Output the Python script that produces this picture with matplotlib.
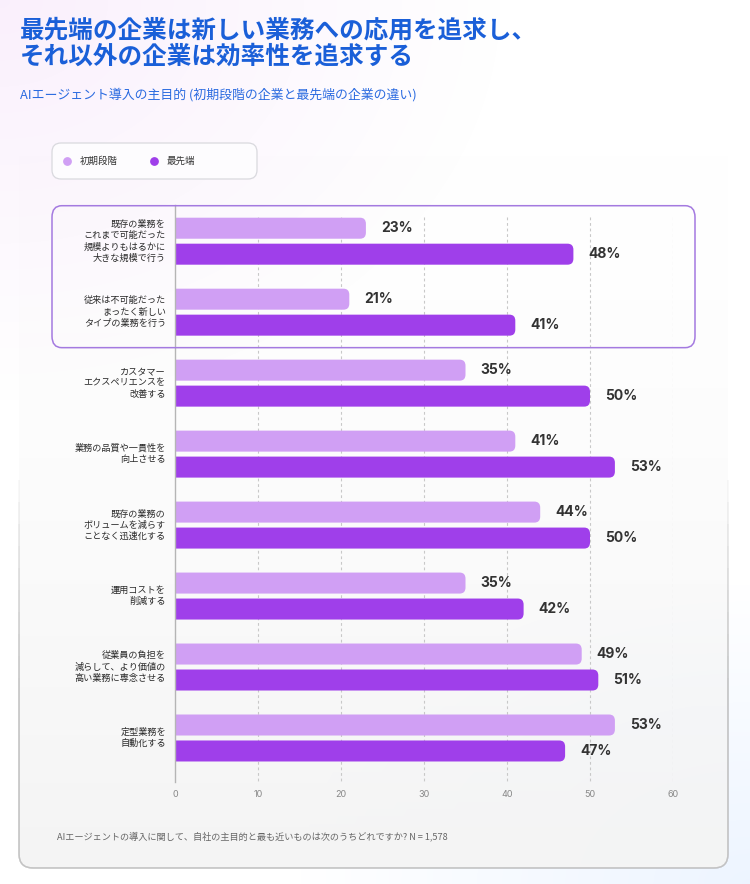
import numpy as np
import matplotlib
matplotlib.use("Agg")
import matplotlib.pyplot as plt
from matplotlib.patches import FancyBboxPatch, Rectangle
from matplotlib.transforms import blended_transform_factory

plt.rcParams["font.family"] = ["Noto Sans CJK JP", "DejaVu Sans"]

# data
categories = [
    "既存の業務を\nこれまで可能だった\n規模よりもはるかに\n大きな規模で行う",
    "従来は不可能だった\nまったく新しい\nタイプの業務を行う",
    "カスタマー\nエクスペリエンスを\n改善する",
    "業務の品質や一貫性を\n向上させる",
    "既存の業務の\nボリュームを減らす\nことなく迅速化する",
    "運用コストを\n削減する",
    "従業員の負担を\n減らして、より価値の\n高い業務に専念させる",
    "定型業務を\n自動化する",
]
early = [23, 21, 35, 41, 44, 35, 49, 53]
leading = [48, 41, 50, 53, 50, 42, 51, 47]
series_names = ["初期段階", "最先端"]
xticks = [0, 10, 20, 30, 40, 50, 60]

title = "最先端の企業は新しい業務への応用を追求し、\nそれ以外の企業は効率性を追求する"
subtitle = "AIエージェント導入の主目的 (初期段階の企業と最先端の企業の違い)"
footnote = "AIエージェントの導入に関して、自社の主目的と最も近いものは次のうちどれですか? N = 1,578"

c_early = "#d09ff4"
c_lead = "#9f3fea"
blue = "#1a5fd8"

W, H = 750, 884
fig = plt.figure(figsize=(W / 100, H / 100), dpi=100)

# background layer in pixel coords
bg = fig.add_axes([0, 0, 1, 1], zorder=-5)
bg.set_xlim(0, W)
bg.set_ylim(H, 0)
bg.axis("off")

yy, xx = np.mgrid[0:H, 0:W]
pink = np.clip(1 - np.hypot(xx / 500, yy / 400), 0, 1)
bluew = np.clip(1 - np.hypot((W - xx) / 450, (H - yy) / 300), 0, 1)
img = np.ones((H, W, 3))
img -= pink[..., None] * np.array([0.02, 0.06, 0.01])
img -= bluew[..., None] * np.array([0.07, 0.04, 0.0])
bg.imshow(img, extent=(0, W, H, 0), aspect="auto", zorder=0)

# card with vertical fade
card = FancyBboxPatch((19, 130), 709, 738, boxstyle="round,pad=0,rounding_size=14",
                      facecolor="none", edgecolor="none", zorder=1)
bg.add_patch(card)
fade = np.linspace(0, 1, 200) ** 1.6
grad = np.ones((200, 2, 4))
grad[..., :3] = 0.96
grad[..., 3] = fade[:, None]
gi = bg.imshow(grad, extent=(19, 728, 868, 130), aspect="auto", zorder=1)
gi.set_clip_path(card)
# faded border: stacked translucent copies clipped lower and lower
n_layers = 10
for k in range(n_layers):
    ce = FancyBboxPatch((19, 130), 709, 738, boxstyle="round,pad=0,rounding_size=14",
                        facecolor="none", edgecolor="#b8b8b8", lw=1.0,
                        alpha=1.0 / n_layers * 1.4, zorder=2)
    bg.add_patch(ce)
    ce.set_clip_path(Rectangle((0, 480 + k * 22), W, 500, transform=bg.transData))

# legend box
bg.add_patch(FancyBboxPatch((52, 143), 205, 36, boxstyle="round,pad=0,rounding_size=9",
                            facecolor="#fdfcfe", edgecolor="#d9d9de", lw=0.9, zorder=3))
for (px, name, col) in [(67, series_names[0], c_early), (154, series_names[1], c_lead)]:
    bg.scatter([px], [161], s=28, color=col, zorder=4)
    bg.text(px + 13, 161, name, fontsize=6.8, color="#333333", va="center", ha="left", zorder=4)

# titles
fig.text(20 / W, 1 - 44 / H, title, fontsize=17.7, fontweight="bold", color=blue,
         va="center", ha="left", linespacing=1.12)
fig.text(20 / W, 1 - 95 / H, subtitle, fontsize=9.3, color="#2b6be0", va="center", ha="left")
fig.text(57 / W, 1 - 836 / H, footnote, fontsize=6.6, color="#666666", va="center", ha="left",
         style="italic")

# main chart
ax = fig.add_axes([175 / W, 1 - 782 / H, 498 / W, 577 / H])
ax.set_facecolor("none")
ypos = np.arange(len(categories))
off, bh = 0.183, 0.296

bars_e = ax.barh(ypos - off, early, height=bh, color=c_early, zorder=3)
bars_l = ax.barh(ypos + off, leading, height=bh, color=c_lead, zorder=3)

# replace bars with rounded versions
for bars in (bars_e, bars_l):
    for b in bars:
        x0, y0, w, h = b.get_x(), b.get_y(), b.get_width(), b.get_height()
        b.set_visible(False)
        rp = FancyBboxPatch((x0 - 1, y0), w + 1, h,
                            boxstyle="round,pad=0,rounding_size=0.7",
                            mutation_aspect=0.085 / 0.7,
                            facecolor=b.get_facecolor(), edgecolor="none", zorder=3)
        ax.add_patch(rp)

for i in range(len(categories)):
    ax.text(early[i] + 1.8, ypos[i] - off, f"{early[i]}%", fontsize=10, fontweight="bold",
            family=["Inter", "DejaVu Sans"], color="#333333", va="center", ha="left")
    ax.text(leading[i] + 1.8, ypos[i] + off, f"{leading[i]}%", fontsize=10, fontweight="bold",
            family=["Inter", "DejaVu Sans"], color="#333333", va="center", ha="left")
    ax.text(-1.1, ypos[i], categories[i], fontsize=6.6, color="#2a2a2a", ha="right",
            va="center", linespacing=1.3)

ax.set_xlim(0, 60)
ax.set_ylim(7.62, -0.51)
ax.set_xticks(xticks)
ax.set_xticklabels([str(t) for t in xticks], fontsize=6.5, color="#888888",
                   family=["Inter", "DejaVu Sans"])
ax.tick_params(axis="x", length=0, pad=6)
ax.set_yticks([])
ax.vlines(xticks[1:], -0.34, 7.62, colors="#c8c8c8", linestyles=(0, (2.5, 2.5)),
          lw=0.8, zorder=0)
for s in ["top", "right", "bottom"]:
    ax.spines[s].set_visible(False)
ax.spines["left"].set_color("#b5b5b5")
ax.spines["left"].set_linewidth(1.0)
ax.spines["left"].set_zorder(4)

# highlight box around first two categories
tr = blended_transform_factory(fig.transFigure, ax.transData)
hb = FancyBboxPatch((52 / W, -0.5), 643 / W, 2.0, boxstyle="round,pad=0,rounding_size=0.013",
                    mutation_aspect=(2.0 / (142 / H)) * 1.0,
                    transform=tr, facecolor="none", edgecolor="#a47ae0", lw=1.1,
                    clip_on=False, zorder=5)
ax.add_patch(hb)

fig.savefig("out.png", dpi=100)
